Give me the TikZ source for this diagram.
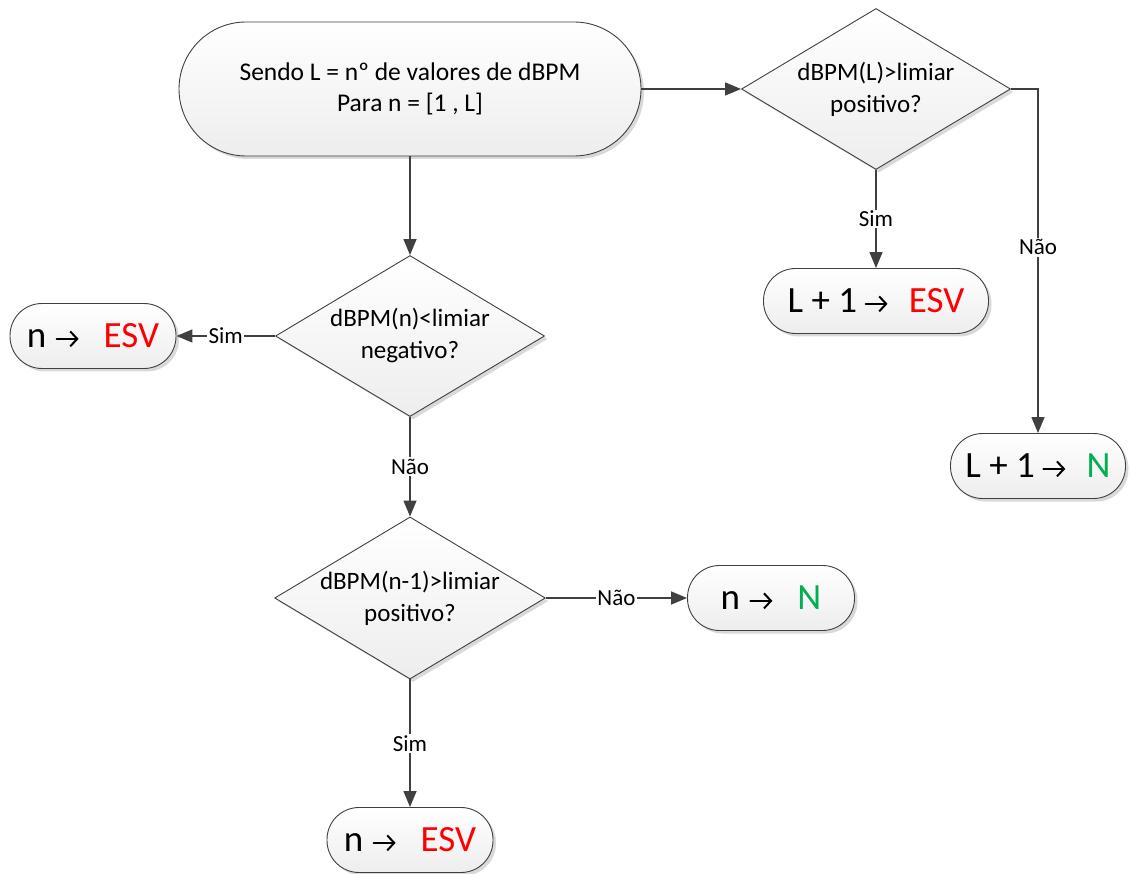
\documentclass[tikz,border=0pt]{standalone}
\usepackage{fontspec}
\setmainfont{Carlito}
\usetikzlibrary{shapes.geometric,shadows,arrows.meta}
\definecolor{edgec}{HTML}{404040}
\definecolor{esvred}{HTML}{FF0000}
\definecolor{ngreen}{HTML}{00B050}
\newsavebox{\arrbox}
\sbox{\arrbox}{\tikz[baseline=0pt]{\draw[line width=2pt, line cap=round, line join=round,
  -{Straight Barb[length=7pt,width=15pt,line width=2pt]}] (0pt,9pt) -- (22pt,9pt);}}
\newcommand{\arr}{\usebox{\arrbox}}
\begin{document}
\begin{tikzpicture}[x=1pt,y=-1pt,
  shapebase/.style={draw=edgec, line width=0.9pt, top color=white, bottom color=gray!14,
    drop shadow={shadow xshift=3pt, shadow yshift=-3pt, fill=gray!30, opacity=1},
    align=center, inner sep=0pt},
  term/.style={shapebase, rectangle, rounded corners=32pt, minimum height=65pt,
    font=\fontsize{37}{42}\selectfont},
  decision/.style={shapebase, diamond, aspect=1.67, minimum width=269pt, minimum height=161pt,
    font=\fontsize{25}{32}\selectfont},
  conn/.style={draw=edgec, line width=1.4pt, -{Triangle[length=16pt,width=13pt]}},
  lbl/.style={fill=white, inner sep=1.5pt, font=\fontsize{23}{26}\selectfont, text=black}
]
\useasboundingbox (0,0) rectangle (1130,874);

\node[shapebase, rectangle, rounded corners=67pt, minimum width=462pt, minimum height=134pt,
  font=\fontsize{25.5}{31}\selectfont] (start) at (410,89)
  {Sendo L = nº de valores de dBPM\\Para n = [1 , L]};

\node[decision] (d1) at (876,89) {dBPM(L)>limiar\\positivo?};
\node[decision] (d2) at (410,336) {dBPM(n)<limiar\\negativo?};
\node[decision] (d3) at (410,598) {dBPM(n-1)>limiar\\positivo?};

\node[term, minimum width=225pt] (e1) at (876,301) {L + 1\hspace{0.2em}\arr\hspace{0.55em}{\color{esvred}ESV}};
\node[term, minimum width=175pt] (n1) at (1038,466) {L + 1\hspace{0.2em}\arr\hspace{0.55em}{\color{ngreen}N}};
\node[term, minimum width=166pt] (e2) at (93,336) {n\hspace{0.25em}\arr\hspace{0.65em}{\color{esvred}ESV}};
\node[term, minimum width=167pt] (n2) at (771,598) {n\hspace{0.25em}\arr\hspace{0.65em}{\color{ngreen}N}};
\node[term, minimum width=166pt] (e3) at (410,840) {n\hspace{0.25em}\arr\hspace{0.65em}{\color{esvred}ESV}};

\draw[conn] (start.east) -- (d1.west);
\draw[conn] (d1.east) -| node[lbl, pos=0.73] {Não} (n1.north);
\draw[conn] (d1.south) -- node[lbl] {Sim} (e1.north);
\draw[conn] (start.south) -- (d2.north);
\draw[conn] (d2.west) -- node[lbl] {Sim} (e2.east);
\draw[conn] (d2.south) -- node[lbl] {Não} (d3.north);
\draw[conn] (d3.east) -- node[lbl] {Não} (n2.west);
\draw[conn] (d3.south) -- node[lbl] {Sim} (e3.north);
\end{tikzpicture}
\end{document}
